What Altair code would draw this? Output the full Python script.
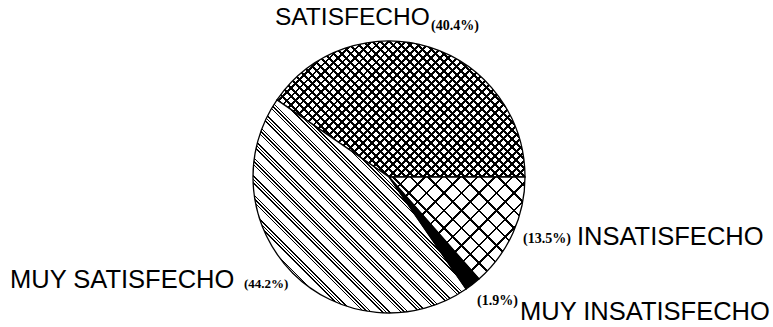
import math
import altair as alt
import pandas as pd

# Survey answers, listed clockwise starting at 3 o'clock
categories = ["INSATISFECHO", "MUY INSATISFECHO", "MUY SATISFECHO", "SATISFECHO"]
values = [13.5, 1.9, 44.2, 40.4]
order = [0, 1, 2, 3]

df = pd.DataFrame({"cat": categories, "value": values, "order": order})

R = 136          # pie radius in px
CX, CY = 389, 177
INK = "black"
CLEAR = "rgba(0,0,0,0)"

total = sum(values)
start = math.pi / 2  # first slice begins at 3 o'clock


def slice_angles(name):
    cum = 0.0
    for c, v in zip(categories, values):
        if c == name:
            return start + 2 * math.pi * cum / total, start + 2 * math.pi * (cum + v) / total
        cum += v


def wedge_size(a0, a1, r):
    pts = [(0.0, 0.0), (r * math.sin(a0), -r * math.cos(a0)), (r * math.sin(a1), -r * math.cos(a1))]
    k = math.ceil(a0 / (math.pi / 2))
    while k * math.pi / 2 < a1:
        a = k * math.pi / 2
        pts.append((r * math.sin(a), -r * math.cos(a)))
        k += 1
    xs = [p[0] for p in pts]
    ys = [p[1] for p in pts]
    return max(xs) - min(xs), max(ys) - min(ys)


def hatch(name, direction, period, lines):
    """Striped linear gradient at 45 degrees across one slice's bounding box.
    period: horizontal repeat in px; lines: list of (offset, width) in px."""
    w, h = wedge_size(*slice_angles(name), R)
    L = w + h
    k = L / (w * w + h * h)
    if direction == "/":
        x1, y1, x2, y2 = 0, 0, k * w, k * h
    else:
        x1, y1, x2, y2 = 0, 1, k * w, 1 - k * h
    stops = [alt.GradientStop(offset=0, color=CLEAR)]
    last = 0.0
    n = int(L / period) + 2
    for i in range(n):
        for off, lw in lines:
            a = (i * period + off) / L
            b = (i * period + off + lw) / L
            if a >= 1:
                continue
            a = max(a, last)
            b = min(b, 1.0)
            stops += [
                alt.GradientStop(offset=a, color=CLEAR),
                alt.GradientStop(offset=a, color=INK),
                alt.GradientStop(offset=b, color=INK),
                alt.GradientStop(offset=b, color=CLEAR),
            ]
            last = b
    return alt.LinearGradient(gradient="linear", stops=stops, x1=x1, y1=y1, x2=x2, y2=y2)


theta_scale = alt.Scale(domain=[0, total], range=[start, start + 2 * math.pi])

base = alt.Chart(df).transform_stack(
    stack="value", groupby=[], as_=["s0", "s1"], sort=[alt.SortField("order")]
)


def wedge(name, fill, stroke=True):
    kw = dict(radius=R, fill=fill)
    if stroke:
        kw.update(stroke="black", strokeWidth=1.3)
    else:
        kw.update(strokeWidth=0)
    return base.transform_filter(alt.datum.cat == name).mark_arc(**kw).encode(
        theta=alt.Theta("s0:Q", scale=theta_scale),
        theta2="s1:Q",
        x=alt.value(CX),
        y=alt.value(CY),
    )


layers = [
    # fine cross-hatch
    wedge("SATISFECHO", "white", stroke=False),
    wedge("SATISFECHO", hatch("SATISFECHO", "/", 8.5, [(0, 2.6)]), stroke=False),
    wedge("SATISFECHO", hatch("SATISFECHO", "\\", 8.5, [(0, 2.6)])),
    # coarse cross-hatch
    wedge("INSATISFECHO", "white", stroke=False),
    wedge("INSATISFECHO", hatch("INSATISFECHO", "/", 17.5, [(0, 2.2)]), stroke=False),
    wedge("INSATISFECHO", hatch("INSATISFECHO", "\\", 17.5, [(0, 2.2)])),
    # groups of three diagonal lines
    wedge("MUY SATISFECHO", "white", stroke=False),
    wedge("MUY SATISFECHO", hatch("MUY SATISFECHO", "\\", 18.5, [(0, 1.6), (3.6, 1.6), (7.2, 1.6)])),
    # solid
    wedge("MUY INSATISFECHO", "black"),
]

pct = {c: f"({v}%)" for c, v in zip(categories, values)}

SANS = "Liberation Sans"
SERIF = "Liberation Serif"


def label(text, x, y, size, font, bold=False):
    return alt.Chart(pd.DataFrame({"t": [text]})).mark_text(
        align="left", baseline="alphabetic", fontSize=size, font=font,
        fontWeight="bold" if bold else "normal", color="black",
    ).encode(text="t:N", x=alt.value(x), y=alt.value(y))


texts = [
    label("SATISFECHO", 275, 25, 24.5, SANS),
    label(pct["SATISFECHO"], 431, 30, 14, SERIF, True),
    label(pct["INSATISFECHO"], 523, 243, 14, SERIF, True),
    label("INSATISFECHO", 577, 245, 25.5, SANS),
    label(pct["MUY INSATISFECHO"], 477, 305, 14, SERIF, True),
    label("MUY INSATISFECHO", 520, 320, 25.5, SANS),
    label("MUY SATISFECHO", 10, 288, 25.5, SANS),
    label(pct["MUY SATISFECHO"], 244, 288, 13, SERIF, True),
]

chart = alt.layer(*layers, *texts).properties(
    width=773, height=327, autosize="none", padding=0,
    background="white",
).configure_view(stroke=None)

chart.save("out.html", embed_options={"renderer": "svg", "actions": False})
